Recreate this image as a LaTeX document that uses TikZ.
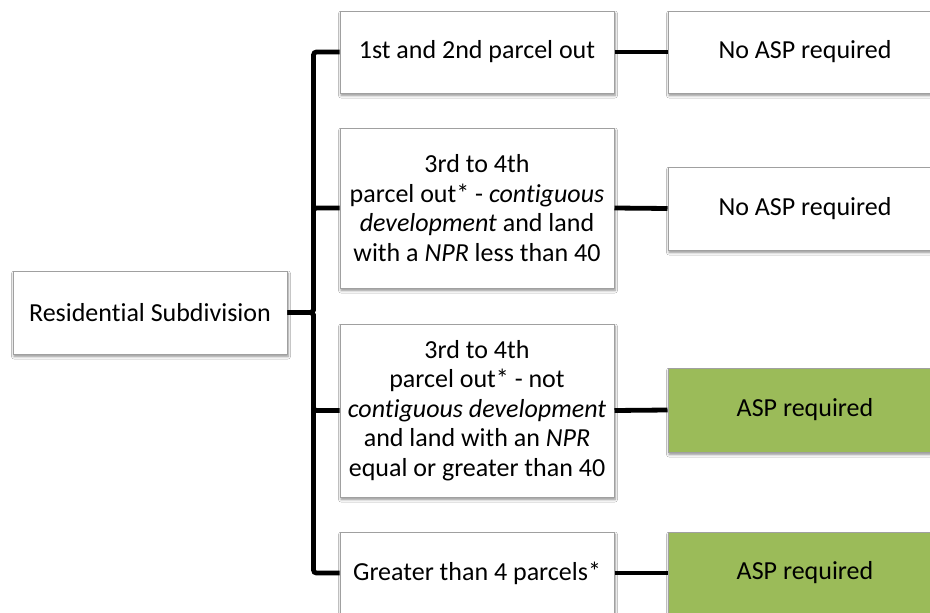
\documentclass[tikz,border=0pt]{standalone}
\usepackage{fontspec}
\setmainfont{Carlito}[Ligatures=NoCommon]
\usetikzlibrary{shadows.blur}
\definecolor{aspgreen}{HTML}{9BBB59}
\definecolor{boxline}{HTML}{A0A0A0}
\tikzset{
  box/.style={draw=boxline, line width=1pt, fill=white, minimum width=274pt,
    inner sep=0pt, align=center, font=\fontsize{26}{29.5}\selectfont,
    blur shadow={shadow xshift=1pt, shadow yshift=-2.5pt, shadow blur steps=6,
      shadow blur radius=2.5pt, shadow opacity=45}},
  greenbox/.style={box, fill=aspgreen},
  conn/.style={line width=4.8pt, black},
  bus/.style={conn, rounded corners=3pt}
}
\begin{document}
\begin{tikzpicture}[x=1pt,y=-1pt]
\clip (0,0) rectangle (930,613);
\fill[white] (0,0) rectangle (930,613);
\node[box, minimum height=83pt] (root) at (150,312.5) {Residential Subdivision};
\node[box, minimum height=82pt] (b1) at (477,52) {1st and 2nd parcel out};
\node[box, minimum height=160pt] (b2) at (477,208) {3rd to 4th\\parcel out* - \textit{contiguous}\\\textit{development} and land\\with a \textit{NPR} less than 40};
\node[box, minimum height=173pt] (b3) at (477,410.5) {3rd to 4th\\parcel out* - not\\\textit{contiguous development}\\and land with an \textit{NPR}\\equal or greater than 40};
\node[box, minimum height=82pt] (b4) at (477,573) {Greater than 4 parcels*};
\node[box, minimum height=82pt] (r1) at (805,52) {No ASP required};
\node[box, minimum height=83pt] (r2) at (805,208.5) {No ASP required};
\node[greenbox, minimum height=84pt] (r3) at (805,410) {ASP required};
\node[greenbox, minimum height=82pt] (r4) at (805,573) {ASP required};
\draw[bus] (root.east) -- ++(26,0) |- (b1.west);
\draw[bus] (root.east) -- ++(26,0) |- (b2.west);
\draw[bus] (root.east) -- ++(26,0) |- (b3.west);
\draw[bus] (root.east) -- ++(26,0) |- (b4.west);
\draw[conn] (b1.east) -- (r1.west);
\draw[conn] (b2.east) -- (r2.west);
\draw[conn] (b3.east) -- (r3.west);
\draw[conn] (b4.east) -- (r4.west);
\end{tikzpicture}
\end{document}
